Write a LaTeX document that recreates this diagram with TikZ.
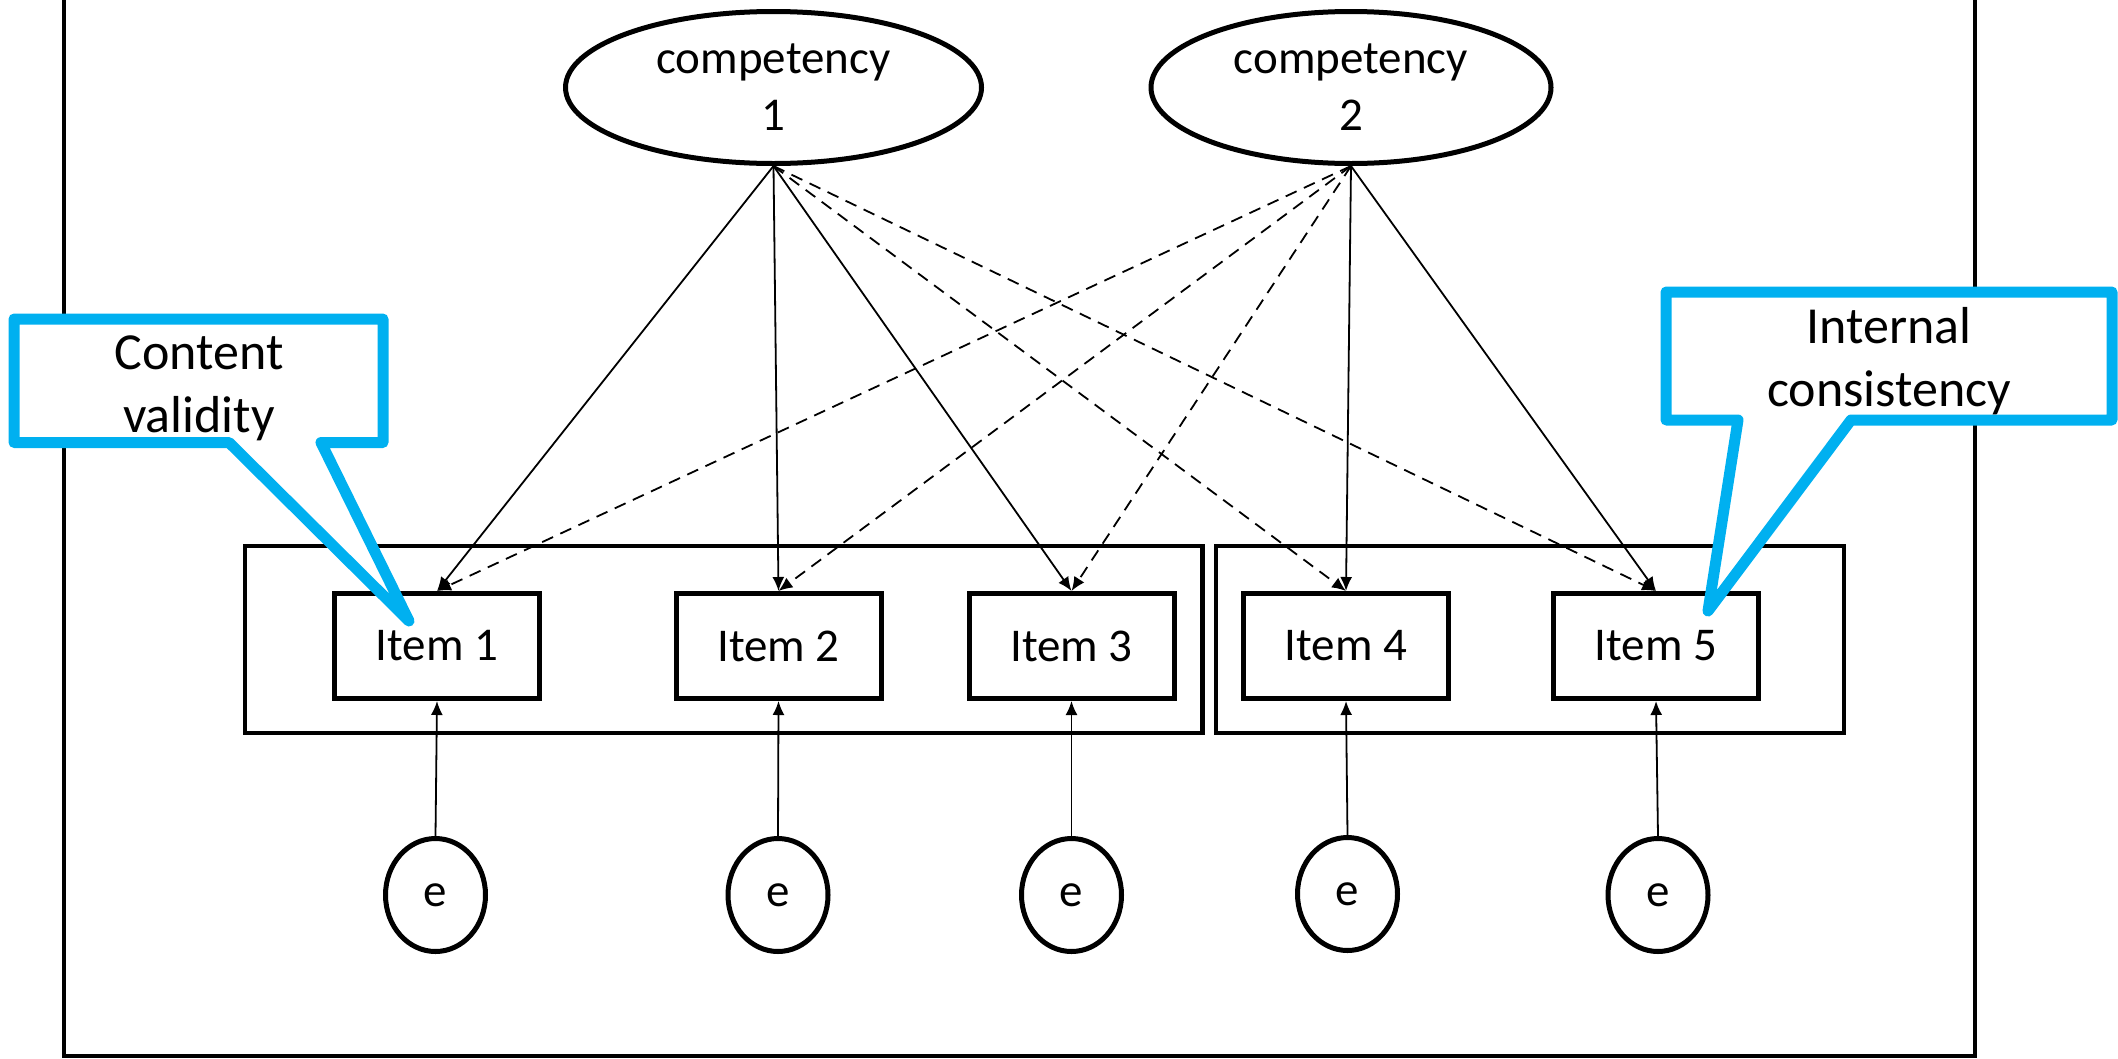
\documentclass[tikz,border=0pt]{standalone}
\usepackage{fontspec}
\setmainfont{Carlito}
\usetikzlibrary{arrows.meta,shapes.geometric}
\definecolor{calloutblue}{RGB}{0,176,240}
\begin{document}
\begin{tikzpicture}[x=1pt,y=-1pt,
  frameline/.style={line width=4.5pt},
  groupbox/.style={draw,line width=4.5pt,minimum height=187pt,inner sep=0pt},
  itembox/.style={draw,line width=5pt,fill=white,minimum width=205pt,minimum height=105pt,inner sep=0pt,font=\fontsize{47}{57}\selectfont},
  latent/.style={draw,ellipse,line width=5pt,fill=white,inner sep=0pt,align=center,minimum height=152pt,font=\fontsize{47}{57}\selectfont},
  errnode/.style={draw,ellipse,line width=5pt,fill=white,minimum width=100pt,minimum height=113pt,inner sep=0pt,font=\fontsize{47}{57}\selectfont},
  load/.style={line width=1.8pt,-{Latex[length=14pt,width=12pt]}},
  crossload/.style={load,dash pattern=on 12pt off 8pt},
  callout/.style={draw=calloutblue,fill=white,line width=11pt,line join=round},
  callouttext/.style={align=center,inner sep=0pt,font=\fontsize{52}{63}\selectfont}
]
\useasboundingbox (0,0) rectangle (2118,1058);
\clip (0,0) rectangle (2118,1058);

% outer frame (top runs off the picture)
\draw[frameline] (64,-20) -- (64,1056) -- (1975,1056) -- (1975,-20);

% group boxes
\node[groupbox,minimum width=957.5pt] (g1) at (723.75,639.5) {};
\node[groupbox,minimum width=628pt] (g2) at (1530,639.5) {};

% latent variables
\node[latent,minimum width=416pt] (c1) at (773.5,87.5) {competency\\1};
\node[latent,minimum width=400pt] (c2) at (1351,87.5) {competency\\2};

% items
\node[itembox] (i1) at (437,646) {Item 1};
\node[itembox] (i2) at (778.5,646) {Item 2};
\node[itembox] (i3) at (1071.5,646) {Item 3};
\node[itembox] (i4) at (1346,646) {Item 4};
\node[itembox] (i5) at (1656,646) {Item 5};

% error terms
\node[errnode] (e1) at (435.5,895) {e};
\node[errnode] (e2) at (778,895) {e};
\node[errnode] (e3) at (1071.5,895) {e};
\node[errnode] (e4) at (1347.5,894) {e};
\node[errnode] (e5) at (1658,895) {e};

% loadings
\draw[load] (c1.south) -- (i1.north);
\draw[load] (c1.south) -- (i2.north);
\draw[load] (c1.south) -- (i3.north);
\draw[crossload] (c1.south) -- (i4.north);
\draw[crossload] (c1.south) -- (i5.north);
\draw[crossload] (c2.south) -- (i1.north);
\draw[crossload] (c2.south) -- (i2.north);
\draw[crossload] (c2.south) -- (i3.north);
\draw[load] (c2.south) -- (i4.north);
\draw[load] (c2.south) -- (i5.north);

% error arrows
\draw[load] (e1.north) -- (i1.south);
\draw[load] (e2.north) -- (i2.south);
\draw[load] (e3.north) -- (i3.south);
\draw[load] (e4.north) -- (i4.south);
\draw[load] (e5.north) -- (i5.south);

% callouts
\draw[callout] (14,319) -- (383,319) -- (383,442.5) -- (321,442.5) -- (409,621) -- (229,442.5) -- (14,442.5) -- cycle;
\node[callouttext] (cv) at (199,388) {Content\\validity};
\draw[callout] (1666,292) -- (2112,292) -- (2112,420) -- (1851,420) -- (1708,611) -- (1738,420) -- (1666,420) -- cycle;
\node[callouttext] (ic) at (1889,361.5) {Internal\\consistency};
\end{tikzpicture}
\end{document}
